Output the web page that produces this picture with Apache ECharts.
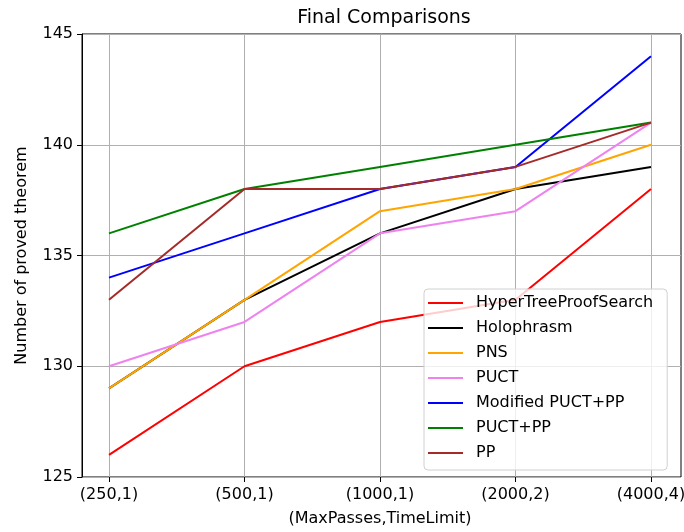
<!DOCTYPE html>
<html>
<head>
<meta charset="utf-8">
<script src="https://cdn.jsdelivr.net/npm/echarts@6/dist/echarts.min.js"></script>
<style>
  html, body { margin: 0; padding: 0; background: #fff; }
  #chart { width: 684px; height: 532px; }
</style>
</head>
<body>
<div id="chart"></div>
<script>
const categories = ['(250,1)', '(500,1)', '(1000,1)', '(2000,2)', '(4000,4)'];
const hyperTree = [126, 130, 132, 133, 138];
const holophrasm = [129, 133, 136, 138, 139];
const pns = [129, 133, 137, 138, 140];
const puct = [130, 132, 136, 137, 141];
const modPuctPP = [134, 136, 138, 139, 144];
const puctPP = [136, 138, 139, 140, 141];
const pp = [133, 138, 138, 139, 141];
const yTicks = [125, 130, 135, 140, 145];

const font = 'DejaVu Sans';
// legend icon: a short line with blank room after it, so the label sits further right
const legendIcon = 'path://M0,0 H35 V2 H0 Z M43,1 H43.01 V1.01 H43 Z';

function line(name, data, color) {
    return {
        name: name,
        type: 'line',
        xAxisIndex: 1,
        yAxisIndex: 1,
        data: data,
        symbol: 'none',
        lineStyle: { color: color, width: 2 },
        itemStyle: { color: color },
        animation: false
    };
}

const chart = echarts.init(document.getElementById('chart'), null, { renderer: 'canvas' });
chart.setOption({
    backgroundColor: '#fff',
    animation: false,
    title: {
        text: 'Final Comparisons',
        left: 379,
        textAlign: 'center',
        top: 4,
        textStyle: { fontFamily: font, fontSize: 19, fontWeight: 'normal', color: '#000' }
    },
    grid: [
        { left: 82, right: 3, top: 34, bottom: 55, outerBoundsMode: 'none', show: true, borderColor: '#000', borderWidth: 1, backgroundColor: 'transparent' },
        { left: 109, right: 33, top: 34, bottom: 55, outerBoundsMode: 'none' }
    ],
    legend: {
        orient: 'vertical',
        left: 424,
        top: 289,
        icon: legendIcon,
        itemWidth: 43,
        itemHeight: 2.5,
        itemGap: 7,
        padding: [5, 14, 8, 4],
        backgroundColor: 'rgba(255,255,255,0.8)',
        borderColor: '#d0d0d0',
        borderWidth: 1,
        borderRadius: 4,
        textStyle: { fontFamily: font, fontSize: 16, lineHeight: 18, color: '#000' },
        data: ['HyperTreeProofSearch', 'Holophrasm', 'PNS', 'PUCT', 'Modified PUCT+PP', 'PUCT+PP', 'PP']
    },
    xAxis: [
        { gridIndex: 0, type: 'value', min: 0, max: 1, show: false },
        {
            gridIndex: 1,
            type: 'category',
            data: categories,
            boundaryGap: false,
            axisLine: { show: false },
            axisTick: { show: true, length: 5, lineStyle: { color: '#000' } },
            axisLabel: { fontFamily: font, fontSize: 16, color: '#000', margin: 10 },
            splitLine: { show: true, lineStyle: { color: '#b0b0b0', width: 1 } },
            name: '(MaxPasses,TimeLimit)',
            nameLocation: 'middle',
            nameGap: 34,
            nameTextStyle: { fontFamily: font, fontSize: 16, color: '#000' }
        }
    ],
    yAxis: [
        {
            gridIndex: 0,
            type: 'value',
            min: yTicks[0],
            max: yTicks[yTicks.length - 1],
            interval: 5,
            axisLine: { show: true, lineStyle: { color: '#000' } },
            axisTick: { show: true, length: 5, lineStyle: { color: '#000' } },
            axisLabel: { fontFamily: font, fontSize: 16, color: '#000', margin: 9 },
            splitLine: { show: true, lineStyle: { color: '#b0b0b0', width: 1 } },
            name: 'Number of proved theorem',
            nameLocation: 'middle',
            nameGap: 52,
            nameTextStyle: { fontFamily: font, fontSize: 16, color: '#000' }
        },
        {
            gridIndex: 1,
            type: 'value',
            min: yTicks[0],
            max: yTicks[yTicks.length - 1],
            interval: 5,
            show: false
        }
    ],
    series: [
        line('HyperTreeProofSearch', hyperTree, '#ff0000'),
        line('Holophrasm', holophrasm, '#000000'),
        line('PNS', pns, '#ffa500'),
        line('PUCT', puct, '#ee82ee'),
        line('Modified PUCT+PP', modPuctPP, '#0000ff'),
        line('PUCT+PP', puctPP, '#008000'),
        line('PP', pp, '#a52a2a')
    ]
});
</script>
</body>
</html>
